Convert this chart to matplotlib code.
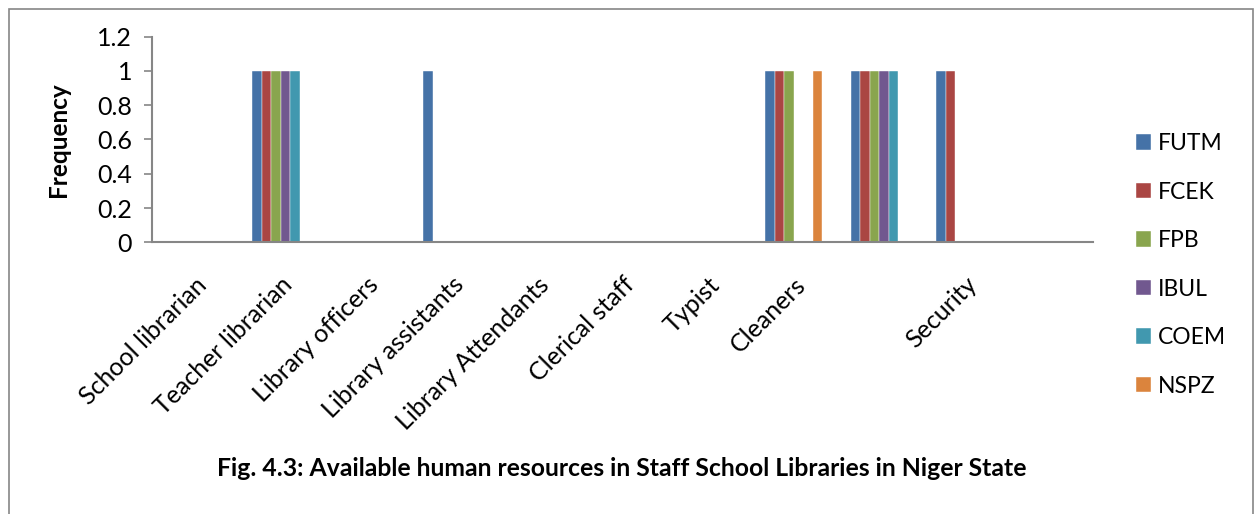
import matplotlib
matplotlib.use("Agg")
import matplotlib.pyplot as plt
import numpy as np
from matplotlib.patches import Rectangle

categories = ["School librarian", "Teacher librarian", "Library officers",
              "Library assistants", "Library Attendants", "Clerical staff",
              "Typist", "Cleaners", "", "Security", ""]
series_names = ["FUTM", "FCEK", "FPB", "IBUL", "COEM", "NSPZ"]
futm = [0, 1, 0, 1, 0, 0, 0, 1, 1, 1, 0]
fcek = [0, 1, 0, 0, 0, 0, 0, 1, 1, 1, 0]
fpb = [0, 1, 0, 0, 0, 0, 0, 1, 1, 0, 0]
ibul = [0, 1, 0, 0, 0, 0, 0, 0, 1, 0, 0]
coem = [0, 1, 0, 0, 0, 0, 0, 0, 1, 0, 0]
nspz = [0, 0, 0, 0, 0, 0, 0, 1, 0, 0, 0]
y_ticks = [0, 0.2, 0.4, 0.6, 0.8, 1, 1.2]
y_tick_labels = ["0", "0.2", "0.4", "0.6", "0.8", "1", "1.2"]

colors = ["#4572A7", "#AA4643", "#89A54E", "#71588F", "#4198AF", "#DB843D"]
values = [futm, fcek, fpb, ibul, coem, nspz]

plt.rcParams["font.family"] = ["Lato", "DejaVu Sans"]

W, H = 1255, 514
fig = plt.figure(figsize=(W / 100, H / 100), dpi=100)
ax = fig.add_axes([152.3 / W, 1 - 242.3 / H, (1093 - 152.3) / W, (242.3 - 36.6) / H])

n = len(series_names)
gap = 0.5
bw = 1.0 / (1 + gap) / n
x = np.arange(len(categories))
for i, (name, vals, c) in enumerate(zip(series_names, values, colors)):
    offs = (i - (n - 1) / 2) * bw
    ax.bar(x + offs, vals, width=bw, color=c, label=name,
           edgecolor="white", linewidth=0.3)

ax.set_xlim(-0.5, len(categories) - 0.5)
ax.set_ylim(0, 1.2)
ax.set_yticks(y_ticks)
ax.set_yticklabels(y_tick_labels, fontsize=18)
ax.set_xticks(x)
ax.set_xticklabels(categories, rotation=45, ha="right", rotation_mode="anchor",
                   fontsize=18)
ax.tick_params(axis="x", length=0, pad=22)
ax.tick_params(axis="y", length=6, width=1.2, color="#868686", pad=8.5)
for s in ["top", "right"]:
    ax.spines[s].set_visible(False)
for s in ["left", "bottom"]:
    ax.spines[s].set_color("#868686")
    ax.spines[s].set_linewidth(1.5)

ax.set_ylabel("Frequency", fontsize=17.5, fontweight="bold")
ax.yaxis.set_label_coords((70 - 152.3) / 940.7, 0.5)

handles, labels = ax.get_legend_handles_labels()
leg = fig.legend(handles, labels, loc="upper left",
                 bbox_to_anchor=(1127 / W, 1 - 124 / H), frameon=False,
                 fontsize=16.5, handlelength=0.65, handleheight=0.65,
                 handletextpad=0.3, labelspacing=1.2, borderaxespad=0)

fig.text(622 / W, 1 - 468 / H,
         "Fig. 4.3: Available human resources in Staff School Libraries in Niger State",
         ha="center", va="center", fontsize=17.8, fontweight="bold")

frame = Rectangle((8.5 / W, -0.1), (1253 - 8.5) / W, (1 - 8.5 / H) + 0.1,
                  transform=fig.transFigure, fill=False, edgecolor="#868686",
                  linewidth=1.2)
fig.patches.append(frame)

fig.savefig("out.png", dpi=100, facecolor="white")
